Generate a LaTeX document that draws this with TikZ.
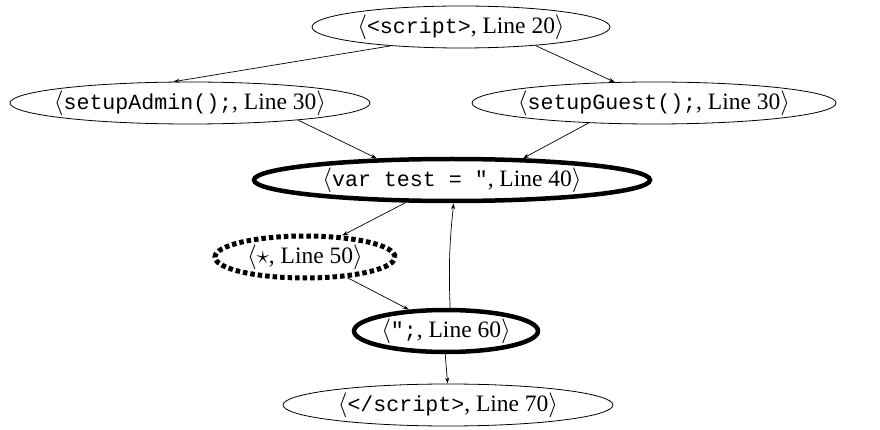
\documentclass[tikz,border=0pt]{standalone}
\usepackage{fontspec}
\setmainfont{Liberation Serif}
\setmonofont{Liberation Mono}[Scale=0.92]
\usetikzlibrary{shapes.geometric,arrows.meta}

\begin{document}
\begin{tikzpicture}[x=1pt, y=1pt,
    state/.style={ellipse, draw=black, line width=0.8pt, inner ysep=0pt,
        inner xsep=-50pt, minimum height=42pt,
        font=\fontsize{23.5}{26}\selectfont},
    hot/.style={state, line width=4.5pt},
    pending/.style={state, line width=5pt, dash pattern=on 4.5pt off 3pt},
    edge/.style={line width=0.7pt, -{Stealth[length=6pt,width=4pt]}}
]
    \useasboundingbox (0,0) rectangle (880,-430);
    \node[state, minimum width=298pt] (open) at (461,-27)
        {$\langle$\texttt{<script>}, Line 20$\rangle$};
    \node[state, minimum width=360pt] (admin) at (190,-103)
        {$\langle$\texttt{setupAdmin();}, Line 30$\rangle$};
    \node[state, minimum width=364pt] (guest) at (654,-103)
        {$\langle$\texttt{setupGuest();}, Line 30$\rangle$};
    \node[hot, minimum width=396pt] (var) at (452,-180)
        {$\langle$\texttt{var test = "}, Line 40$\rangle$};
    \node[pending, minimum width=180pt] (star) at (305,-257)
        {$\langle\star$, Line 50$\rangle$};
    \node[hot, minimum width=184pt] (quote) at (446,-331)
        {$\langle$\texttt{";}, Line 60$\rangle$};
    \node[state, minimum width=330pt] (close) at (448,-405)
        {$\langle$\texttt{</script>}, Line 70$\rangle$};
    \draw[edge] (open.195) -- (admin.128);
    \draw[edge] (open.346) -- (guest.152);
    \draw[edge] (admin.351) -- (var.164);
    \draw[edge] (guest.197) -- (var.17);
    \draw[edge] (var.206) -- (star.30);
    \draw[edge] (star.334) -- (quote.150);
    \draw[edge] (quote.80) to[bend left=4] (var.274);
    \draw[edge] (quote.268) -- (close.91);
\end{tikzpicture}
\end{document}
